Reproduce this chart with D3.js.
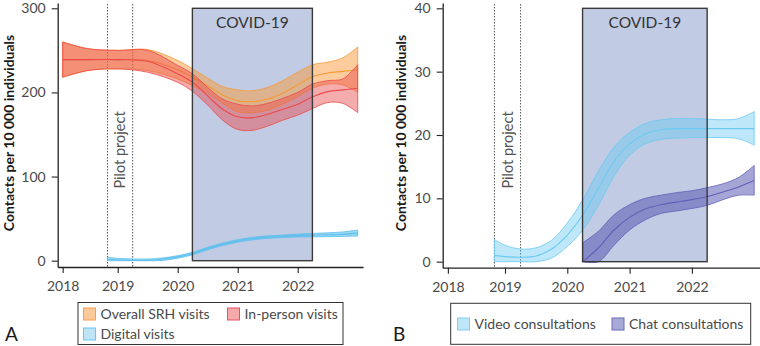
<!DOCTYPE html>
<html><head><meta charset="utf-8">
<script src="https://cdn.jsdelivr.net/npm/d3@7"></script>
<style>
body{margin:0;background:#fff}
svg text{font-family:Lato,"Open Sans",sans-serif}
</style></head><body>
<svg id="c" width="760" height="346"></svg>
<script>
// ---------- data ----------
const tickValues = [2018.083, 2019, 2020, 2021, 2022];
const tickLabels = ["2018", "2019", "2020", "2021", "2022"];
const pilotPeriod = [2018.83, 2019.25];
const covidPeriod = [2020.245, 2022.245];

// Panel A
const tA = [2018.083, 2018.5, 2019, 2019.5, 2020, 2020.25, 2020.5, 2020.75, 2021, 2021.25, 2021.5, 2021.75, 2022, 2022.25, 2022.5, 2022.75, 2023];
const overallMean  = [239, 239, 239, 238, 227, 218, 208, 197, 190, 189, 192, 199, 209, 219, 223, 225, 227];
const overallUpper = [260, 252, 250, 251, 238, 228, 217, 207, 203, 202, 206, 214, 224, 233, 236, 241, 254];
const overallLower = [218, 226, 228, 226, 216, 208, 199, 187, 177, 176, 179, 186, 195, 205, 210, 209, 200];
const inpersonMean  = [239, 239, 239, 237, 222, 212, 196, 180, 171, 170, 174, 180, 186, 195, 201, 203, 205];
const inpersonUpper = [260, 252, 250, 250, 232, 222, 206, 192, 186, 184, 187, 193, 200, 210, 214, 216, 233];
const inpersonLower = [218, 226, 228, 224, 212, 201, 185, 167, 156, 155, 160, 167, 173, 181, 188, 187, 176];
const tD = [2018.83, 2019, 2019.25, 2019.5, 2019.75, 2020, 2020.25, 2020.5, 2020.75, 2021, 2021.25, 2021.5, 2021.75, 2022, 2022.25, 2022.5, 2022.75, 2023];
const digitalMean  = [1.5, 0.8, 0.3, 0.5, 1.8, 4.5, 8.5, 14.5, 19.5, 23.5, 26.3, 28.0, 29.0, 29.8, 30.3, 30.8, 31.5, 32.8];
const digitalUpper = [4.0, 2.8, 2.1, 2.0, 3.3, 6.0, 10.0, 16.0, 21.0, 25.0, 27.8, 29.5, 30.5, 31.6, 32.4, 33.1, 34.2, 36.4];
const digitalLower = [0, 0, 0, 0, 0.3, 3.0, 7.0, 13.0, 18.0, 22.0, 24.8, 26.5, 27.5, 28.2, 28.4, 28.6, 28.9, 29.2];

// Panel B
const tV = [2018.83, 2019, 2019.25, 2019.5, 2019.75, 2020, 2020.25, 2020.5, 2020.75, 2021, 2021.25, 2021.5, 2021.75, 2022, 2022.25, 2022.5, 2022.75, 2023];
const videoMean  = [1.0, 0.8, 0.7, 0.9, 2.0, 4.2, 7.4, 11.6, 15.8, 18.6, 20.2, 20.8, 21.0, 21.0, 21.0, 21.0, 21.0, 21.0];
const videoUpper = [3.5, 2.6, 2.0, 2.2, 3.4, 6.1, 9.8, 14.3, 18.1, 20.4, 21.8, 22.4, 22.6, 22.6, 22.5, 22.4, 22.6, 23.7];
const videoLower = [0, 0, 0, 0, 0.6, 2.4, 5.0, 8.9, 13.5, 16.8, 18.6, 19.3, 19.5, 19.6, 19.6, 19.6, 19.4, 18.4];
const tC = [2020.25, 2020.5, 2020.75, 2021, 2021.25, 2021.5, 2021.75, 2022, 2022.25, 2022.5, 2022.75, 2023];
const chatMean  = [0.0, 2.2, 5.0, 7.0, 8.3, 9.0, 9.4, 9.8, 10.3, 11.0, 11.8, 12.8];
const chatUpper = [3.0, 4.8, 7.4, 9.0, 10.0, 10.5, 10.9, 11.2, 11.7, 12.3, 13.3, 15.2];
const chatLower = [0.0, 0.0, 2.6, 5.0, 6.6, 7.6, 8.0, 8.4, 8.9, 9.8, 10.5, 10.5];

const yTicksA = [0, 100, 200, 300];
const yTicksB = [0, 10, 20, 30, 40];
const yTitle = "Contacts per 10 000 individuals";
const legendA = [["Overall SRH visits", "overall"], ["In-person visits", "inperson"], ["Digital visits", "digital"]];
const legendB = [["Video consultations", "video"], ["Chat consultations", "chat"]];

// ---------- styles ----------
const styles = {
  overall:  {fill: "#f99a3a", op: 0.5,  stroke: "#f59a35", sw: "#fdc998", ss: "#f5a050"},
  inperson: {fill: "#e8474a", op: 0.45, stroke: "#ec4a4a", sw: "#f6a9a9", ss: "#e8506a"},
  digital:  {fill: "#49b8ea", op: 0.55, stroke: "#5cc0ee", sw: "#bfe4f6", ss: "#6cc6ee"},
  video:    {fill: "#64c8f2", op: 0.42, stroke: "#6ccaf2", sw: "#bfe6f8", ss: "#7fd0f0"},
  chat:     {fill: "#4e4eae", op: 0.5,  stroke: "#6060b8", sw: "#a9a9d9", ss: "#6a6ab8"}
};

const svg = d3.select("#c");

function panel(o) {
  const g = svg.append("g");
  const x = d3.scaleLinear().domain([2018, 2023.09]).range(o.xr);
  const y = d3.scaleLinear().domain(o.yd).range(o.yr);
  const ymax = o.ticks[o.ticks.length - 1];

  g.append("rect")
    .attr("x", x(covidPeriod[0])).attr("width", x(covidPeriod[1]) - x(covidPeriod[0]))
    .attr("y", y(ymax)).attr("height", y(0) - y(ymax))
    .attr("fill", "#c1cbe3");

  pilotPeriod.forEach(v => g.append("line")
    .attr("x1", x(v)).attr("x2", x(v)).attr("y1", o.yr[1] + 1).attr("y2", o.yr[0])
    .attr("stroke", "#555").attr("stroke-width", 1).attr("stroke-dasharray", "1.5,1.5"));

  const curve = d3.curveCatmullRom.alpha(0.5);
  o.series.forEach(s => {
    const st = styles[s.key];
    const pts = s.t.map((t, i) => ({t, m: s.mean[i], u: s.upper[i], l: s.lower[i]}));
    const area = d3.area().x(d => x(d.t)).y0(d => y(d.l)).y1(d => y(d.u)).curve(curve);
    g.append("path").attr("d", area(pts))
      .attr("fill", st.fill).attr("fill-opacity", st.op)
      .attr("stroke", st.stroke).attr("stroke-width", 0.9).attr("stroke-opacity", 0.9);
    const line = d3.line().x(d => x(d.t)).y(d => y(d.m)).curve(curve);
    g.append("path").attr("d", line(pts)).attr("fill", "none")
      .attr("stroke", st.stroke).attr("stroke-width", 1.1);
  });

  g.append("rect")
    .attr("x", x(covidPeriod[0])).attr("width", x(covidPeriod[1]) - x(covidPeriod[0]))
    .attr("y", y(ymax)).attr("height", y(0) - y(ymax))
    .attr("fill", "none").attr("stroke", "#3a3a3a").attr("stroke-width", 1.4);

  g.append("text").attr("x", (x(covidPeriod[0]) + x(covidPeriod[1])) / 2).attr("y", y(ymax) + 20)
    .attr("text-anchor", "middle").attr("font-size", 15.5).attr("fill", "#333").text("COVID-19");

  const pc = (x(pilotPeriod[0]) + x(pilotPeriod[1])) / 2;
  g.append("text").attr("transform", `translate(${pc},150) rotate(-90)`)
    .attr("text-anchor", "middle").attr("dy", "0.35em")
    .attr("font-size", 14.5).attr("fill", "#555").text("Pilot project");

  const xa = g.append("g").attr("transform", `translate(0,${o.yr[0]})`)
    .call(d3.axisBottom(x).tickValues(tickValues).tickFormat((d, i) => tickLabels[i])
      .tickSize(6).tickSizeOuter(0).tickPadding(8));
  const ya = g.append("g").attr("transform", `translate(${o.xr[0]},0)`)
    .call(d3.axisLeft(y).tickValues(o.ticks).tickSize(6).tickSizeOuter(0).tickPadding(6));
  [xa, ya].forEach(a => {
    a.select(".domain").attr("stroke", "#222").attr("stroke-width", 1.3);
    a.selectAll(".tick line").attr("stroke", "#222").attr("stroke-width", 1.1);
    a.selectAll(".tick text").attr("font-size", 14).attr("fill", "#4a4a4a")
      .style("font-family", "Lato, sans-serif");
  });

  g.append("text").attr("transform", `translate(${o.titleX},133) rotate(-90)`)
    .attr("text-anchor", "middle").attr("dy", "0.35em")
    .attr("font-size", 14).attr("font-weight", "bold").attr("fill", "#1a1a1a").text(yTitle);

  const L = o.legend;
  g.append("rect").attr("x", L.x).attr("y", L.y).attr("width", L.w).attr("height", L.h)
    .attr("fill", "#fff").attr("stroke", "#333").attr("stroke-width", 1);
  L.items.forEach((it, i) => {
    const st = styles[it[1]];
    const px = L.pos[i][0], py = L.pos[i][1];
    g.append("rect").attr("x", px).attr("y", py - 6).attr("width", 12).attr("height", 12)
      .attr("fill", st.sw).attr("stroke", st.ss).attr("stroke-width", 1);
    g.append("text").attr("x", px + 17).attr("y", py).attr("dy", "0.35em")
      .attr("font-size", 14).attr("fill", "#4a4a4a").text(it[0]);
  });

  g.append("text").attr("x", o.letter[0]).attr("y", o.letter[1])
    .attr("font-size", 19).attr("fill", "#1a1a1a").text(o.letterText);
}

panel({
  xr: [57.7, 363.1], yd: [-7.5, 306.3], yr: [267, 3], ticks: yTicksA, titleX: 9,
  series: [
    {key: "overall", t: tA, mean: overallMean, upper: overallUpper, lower: overallLower},
    {key: "inperson", t: tA, mean: inpersonMean, upper: inpersonUpper, lower: inpersonLower},
    {key: "digital", t: tD, mean: digitalMean, upper: digitalUpper, lower: digitalLower}
  ],
  legend: {x: 78, y: 302.5, w: 265, h: 42, items: legendA, pos: [[83.5, 314], [227.5, 314], [83.5, 334]]},
  letter: [5, 341], letterText: "A"
});

panel({
  xr: [442.7, 759.8], yd: [-0.95, 40.84], yr: [267.7, 3], ticks: yTicksB, titleX: 401,
  series: [
    {key: "video", t: tV, mean: videoMean, upper: videoUpper, lower: videoLower},
    {key: "chat", t: tC, mean: chatMean, upper: chatUpper, lower: chatLower}
  ],
  legend: {x: 450.7, y: 303.3, w: 300, h: 41, items: legendB, pos: [[457.5, 324], [612, 324]]},
  letter: [393, 341], letterText: "B"
});
</script>
</body></html>
